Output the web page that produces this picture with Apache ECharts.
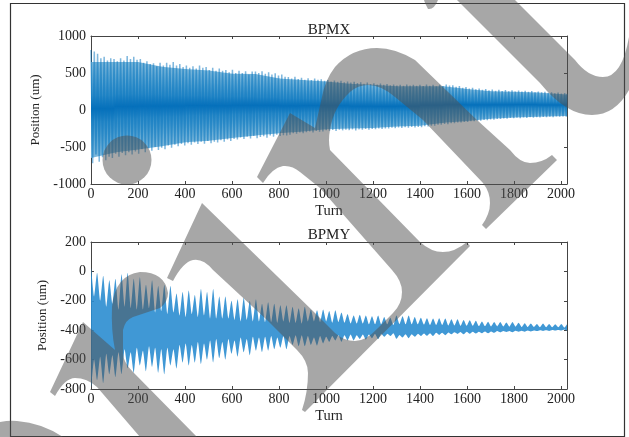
<!DOCTYPE html>
<html><head><meta charset="utf-8">
<style>html,body{margin:0;padding:0;background:#fff}#c{width:629px;height:437px;filter:blur(.45px)}</style>
<script src="https://cdn.jsdelivr.net/npm/echarts@6/dist/echarts.min.js"></script>
</head><body><div id="c"></div>
<script>
const titles = ['BPMX', 'BPMY'];
const xLabel = 'Turn';
const yLabel = 'Position (um)';
const turnMax = 2026;
const turnInterval = 200;
const bpmxStep = 7;
const bpmyStep = 13;
// BPMX: alternating crest / trough readings
const bpmx = [
810,-720,790,-600,760,-700,700,-640,720,-680,670,-630,700,-650,690,-590,660,-630,700,-580,
670,-610,730,-570,690,-600,720,-560,680,-590,690,-530,640,-570,660,-520,620,-550,630,-500,
590,-540,640,-510,600,-530,640,-480,610,-510,650,-470,600,-490,620,-460,580,-480,600,-450,
570,-470,590,-440,560,-460,600,-430,570,-455,580,-420,540,-450,570,-430,530,-440,560,-410,
530,-430,540,-400,510,-420,545,-390,500,-400,530,-370,500,-390,525,-360,480,-385,520,-350,
520,-380,500,-365,525,-355,490,-375,510,-345,480,-360,495,-335,465,-350,480,-340,450,-345,
445,-335,425,-315,450,-320,420,-305,435,-315,410,-300,430,-290,405,-305,425,-285,410,-295,
415,-290,395,-275,405,-280,385,-270,400,-285,380,-265,395,-275,375,-268,385,-272,370,-262,
380,-275,365,-262,375,-268,355,-258,370,-265,350,-255,362,-260,345,-250,358,-256,342,-248,
350,-250,335,-240,345,-245,330,-236,342,-242,328,-232,345,-240,330,-230,340,-236,326,-228,
342,-234,325,-220,345,-222,328,-212,340,-214,322,-200,342,-198,325,-190,345,-192,330,-180,
335,-180,315,-170,325,-168,300,-160,310,-162,290,-152,300,-150,280,-145,290,-146,272,-136,
282,-138,265,-128,275,-130,258,-120,272,-122,255,-115,268,-116,252,-108,265,-112,250,-104,
262,-110,248,-102,258,-106,245,-98,255,-104,240,-96,250,-100,238,-94,245,-98,232,-92,
240,-96,225,-88,235,-92,222,-86,230,-90,218
];
// envelope of the solid part of the BPMX trace
const bandTurns = [0,100,200,300,400,500,600,700,800,900,1000,1100,1200,1300,1400,1500,1600,1700,1800,1900,2026];
const bpmxSolidHi = [650,650,650,585,555,535,490,485,425,405,385,355,340,320,320,320,285,255,245,235,210];
const bpmxSolidLo = [-650,-575,-535,-490,-435,-415,-380,-345,-315,-290,-260,-250,-242,-222,-212,-172,-148,-118,-102,-92,-82];
// BPMY: upper/lower edge pairs, crest then waist of each beat
const bpmy = [
20,-790,-170,-600, -10,-740,-200,-580, -30,-760,-240,-560, -60,-700,-220,-570, -50,-720,-260,-550,
-20,-700,-240,-530, -10,-660,-250,-550, -50,-690,-260,-520, -40,-640,-260,-540, -90,-680,-250,-510,
-60,-650,-280,-520, -100,-690,-270,-530, -90,-700,-290,-520, -100,-640,-280,-530, -150,-660,-300,-500,
-140,-620,-310,-490, -130,-640,-290,-500, -160,-620,-310,-480, -120,-630,-300,-490, -140,-600,-320,-470,
-120,-620,-320,-460, -170,-590,-320,-480, -170,-600,-320,-460, -200,-560,-330,-470, -190,-580,-340,-450,
-180,-550,-330,-460, -200,-570,-340,-445, -190,-540,-340,-450, -220,-550,-345,-445, -210,-540,-345,-440,
-220,-530,-350,-450, -230,-520,-340,-440, -230,-530,-350,-440, -240,-500,-350,-435, -250,-510,-355,-435,
-240,-510,-340,-440, -260,-500,-340,-450, -265,-505,-345,-440, -260,-490,-340,-445, -270,-480,-350,-440,
-265,-470,-345,-435, -280,-480,-350,-435, -290,-470,-355,-430, -300,-470,-355,-435, -295,-460,-355,-430,
-300,-465,-360,-430, -305,-455,-360,-425, -300,-460,-360,-425, -310,-445,-360,-425, -315,-440,-365,-420,
-300,-458,-358,-432, -305,-450,-360,-428, -300,-455,-360,-428, -310,-445,-360,-425, -315,-440,-362,-422,
-318,-438,-365,-420, -320,-440,-365,-418, -318,-432,-365,-418, -320,-435,-368,-416, -325,-428,-368,-414,
-325,-425,-370,-412, -330,-428,-370,-410, -332,-424,-370,-410, -335,-422,-372,-410, -340,-420,-372,-408,
-342,-420,-374,-408, -345,-418,-374,-406, -345,-415,-375,-406, -348,-412,-376,-405, -345,-414,-376,-404,
-350,-410,-378,-404, -352,-410,-378,-402, -355,-408,-378,-402, -358,-406,-380,-400, -355,-405,-380,-400,
-358,-405,-380,-398, -360,-402,-380,-398, -358,-402,-382,-396, -356,-404
];

const stepPoints = (vals, step) => vals.map((v, i) => [Math.min(i * step, turnMax), v]);
const plainNumber = v => String(v);
const tickStyle = { color: '#444', width: 1 };

function xAxis(grid, top) {
  return {
    type: 'value', gridIndex: grid, min: 0, max: turnMax, interval: turnInterval, position: top ? 'top' : 'bottom',
    name: top ? '' : xLabel, nameLocation: 'middle', nameGap: 20,
    nameTextStyle: { fontFamily: 'Liberation Serif', fontSize: 14.5, color: '#222' },
    axisLine: { onZero: false, lineStyle: { color: '#444', width: 1 } },
    axisTick: { show: true, inside: true, length: 3, lineStyle: tickStyle },
    axisLabel: { show: !top, showMaxLabel: false, margin: 3, formatter: plainNumber, fontFamily: 'Liberation Serif', fontSize: 14, color: '#222' },
    splitLine: { show: false }
  };
}
function yAxis(grid, min, max, interval, right, gap) {
  return {
    type: 'value', gridIndex: grid, min, max, interval, position: right ? 'right' : 'left',
    name: right ? '' : yLabel, nameLocation: 'middle', nameGap: gap, nameRotate: 90,
    nameTextStyle: { fontFamily: 'Liberation Serif', fontSize: 13, color: '#222' },
    axisLine: { onZero: false, lineStyle: { color: '#444', width: 1 } },
    axisTick: { show: true, inside: true, length: 3, lineStyle: tickStyle },
    axisLabel: { show: !right, margin: 5, formatter: plainNumber, fontFamily: 'Liberation Serif', fontSize: 14, color: '#222' },
    splitLine: { show: false }
  };
}
const bandStops = [
  { offset: 0, color: '#7ab6da' }, { offset: 0.18, color: '#5aa5d3' }, { offset: 0.36, color: '#3a92cb' },
  { offset: 0.5, color: '#0a70ba' }, { offset: 0.64, color: '#3a92cb' }, { offset: 0.82, color: '#5aa5d3' },
  { offset: 1, color: '#7ab6da' }
];
const stampColor = 'rgba(80,80,80,0.5)';
const stampPaths = [
 'M290 113 L257 177 L263 183 Q272 168 283 166 Q292 165 300 172 L320 188 L392 270 Q402 281 402 292 Q402 304 393 313 L378 328 Q366 341 355 341 Q344 341 335 333 L315 313 L202 203 L167 278 L173 281 Q183 262 193 260 Q203 258 213 270 L267 320 L297 350 Q308 361 308 373 Q308 392 302 410 L305 412 L470 246 L467 242 Q455 252 443 252 Q431 252 420 242 L330 150 Q328 140 330 130 Q333 108 350 92 Q358 85 368 85 Q381 85 395 97 L423 120 L483 183 Q490 192 490 203 Q490 214 482 225 L486 229 L557 160 L552 155 Q542 163 530 163 Q520 163 510 150 L477 120 L415 60 Q395 48 377 48 Q352 48 335 67 Q325 80 322 97 L315 128 Z',
 'M457 0 L540 83 Q566 115 592 115 Q615 115 629 90 L629 37 Q622 77 603 77 Q588 77 575 60 L515 0 Z',
 'M425 3 L428 9 Q434 10 438 0 L424 0 Z',
 'M83 322 L50 392 L55 396 Q65 378 75 378 Q87 378 97 387 L140 437 L197 437 L133 372 Q123 362 123 353 L123 330 Q125 320 133 317 L160 308 Q168 302 168 293 Q165 272 140 272 Q115 275 112 307 Q111 330 115 350 Z',
 'M0 422 Q10 420 17 421 Q42 423 63 437 L0 437 Z',
 'M151.5 160 A24.5 24.5 0 1 1 102.5 160 A24.5 24.5 0 1 1 151.5 160 Z'
];
const chart = echarts.init(document.getElementById('c'), null, { renderer: 'canvas' });
chart.setOption({
  animation: false,
  backgroundColor: '#fff',
  title: [
    { text: titles[0], left: 324, top: 18, textAlign: 'center', textStyle: { fontFamily: 'Liberation Serif', fontWeight: 'normal', fontSize: 15, color: '#222' } },
    { text: titles[1], left: 324, top: 223, textAlign: 'center', textStyle: { fontFamily: 'Liberation Serif', fontWeight: 'normal', fontSize: 15, color: '#222' } }
  ],
  grid: [
    { left: 91, top: 36, width: 476, height: 148 },
    { left: 91, top: 242, width: 476, height: 147 }
  ],
  xAxis: [xAxis(0, false), xAxis(0, true), xAxis(1, false), xAxis(1, true)],
  yAxis: [
    yAxis(0, -1000, 1000, 500, false, 31), yAxis(0, -1000, 1000, 500, true, 0),
    yAxis(1, -800, 200, 200, false, 25), yAxis(1, -800, 200, 200, true, 0)
  ],
  series: [
    { type: 'custom', xAxisIndex: 0, yAxisIndex: 0, silent: true, clip: true, z: 2, data: bandTurns.slice(0, -1),
      renderItem(params, api) {
        const i = params.dataIndex;
        const a = api.coord([bandTurns[i], bpmxSolidHi[i]]), b = api.coord([bandTurns[i + 1], bpmxSolidHi[i + 1]]);
        const c = api.coord([bandTurns[i + 1], bpmxSolidLo[i + 1]]), d = api.coord([bandTurns[i], bpmxSolidLo[i]]);
        b[0] += 0.7; c[0] += 0.7;
        const y0 = (a[1] + b[1]) / 2, y1 = (c[1] + d[1]) / 2;
        return { type: 'polygon', shape: { points: [a, b, c, d] },
          style: { fill: new echarts.graphic.LinearGradient(0, y0, 0, y1, bandStops, true) } };
      } },
    { type: 'line', xAxisIndex: 0, yAxisIndex: 0, symbol: 'none', z: 3, data: stepPoints(bpmx, bpmxStep),
      lineStyle: { color: '#0072BD', width: 1.5, opacity: 0.5, join: 'bevel' } },
    { type: 'custom', xAxisIndex: 2, yAxisIndex: 2, silent: true, clip: true, z: 3, data: [0],
      renderItem(params, api) {
        const upper = [], lower = [];
        for (let i = 0; i < bpmy.length; i += 2) {
          const t = (i / 2) * bpmyStep;
          upper.push(api.coord([t, bpmy[i]]));
          lower.push(api.coord([t, bpmy[i + 1]]));
        }
        return { type: 'polygon', shape: { points: upper.concat(lower.reverse()), smooth: 0.2 },
          style: { fill: '#2b8dd0', opacity: 0.9 } };
      } },
    { type: 'custom', coordinateSystem: 'none', silent: true, clip: false, z: 100, data: [0],
      renderItem() {
        return { type: 'group', children: stampPaths.map(d => ({ type: 'path', shape: { pathData: d }, style: { fill: stampColor } })) };
      } }
  ],
  graphic: [
    { type: 'rect', z: -1, silent: true, shape: { x: 10.5, y: 3.5, width: 614, height: 433 }, style: { fill: 'none', stroke: '#333', lineWidth: 1.2 } }
  ]
});
</script></body></html>
